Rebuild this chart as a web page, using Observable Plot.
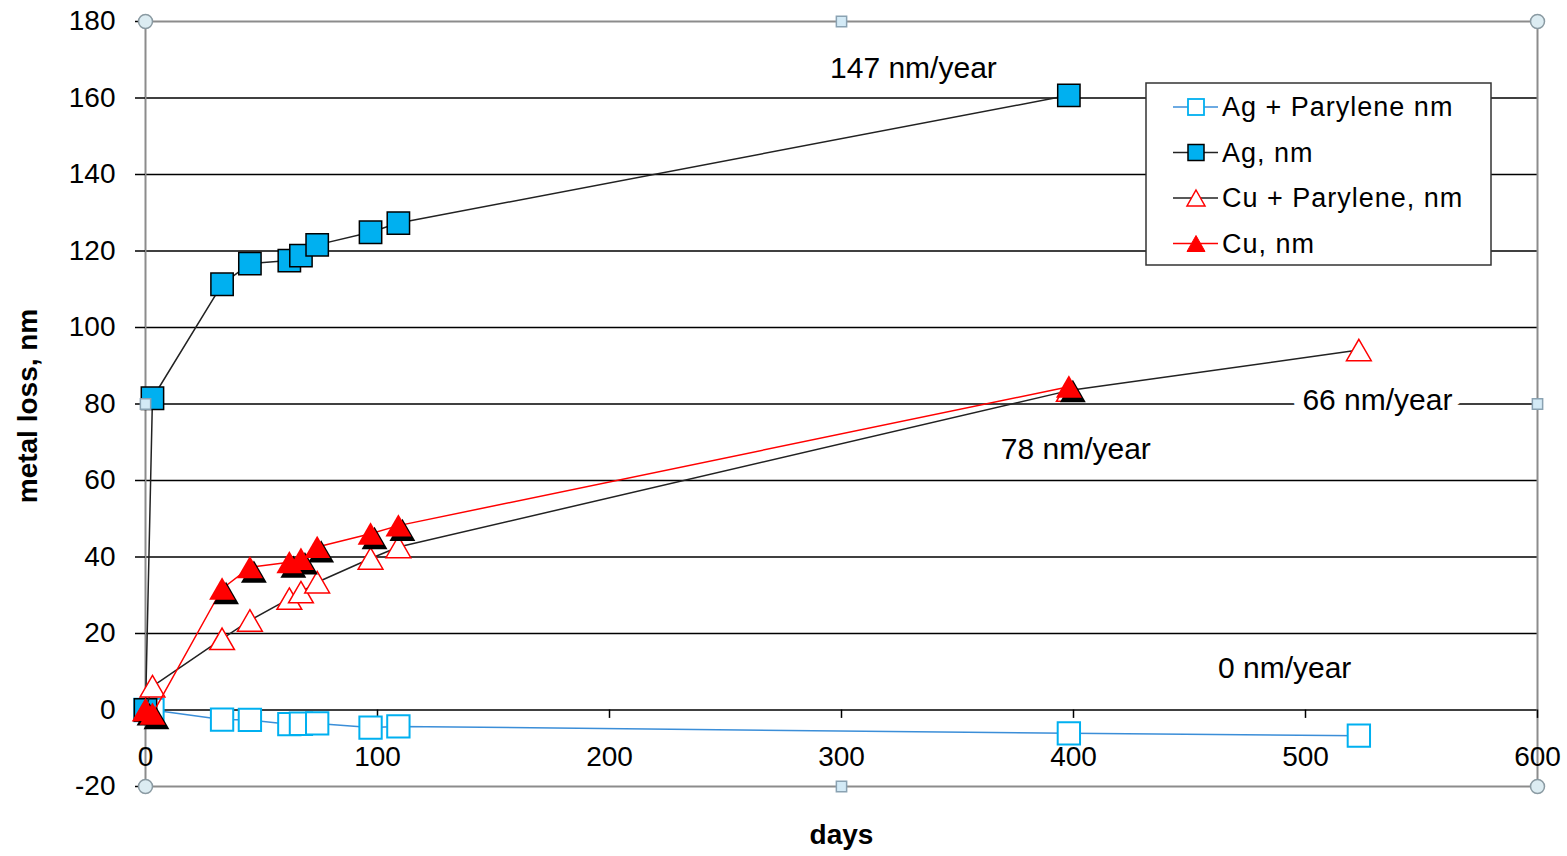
<!DOCTYPE html>
<html>
<head>
<meta charset="utf-8">
<script src="https://cdn.jsdelivr.net/npm/d3@7"></script>
<script src="https://cdn.jsdelivr.net/npm/@observablehq/plot@0.6"></script>
<style>
  html, body { margin: 0; padding: 0; background: white; }
  #wrap { position: relative; width: 1567px; height: 856px; }
</style>
</head>
<body>
<div id="wrap"></div>
<script>
// ---- data ----
const days        = [0, 3, 33, 45, 62, 67, 74, 97, 109, 398];
const daysLong    = [0, 3, 33, 45, 62, 67, 74, 97, 109, 398, 523];
const agParylene  = [0, 0, -2.5, -2.6, -3.7, -3.6, -3.5, -4.6, -4.3, -6.1, -6.7];
const agBare      = [0, 81.5, 111.3, 116.7, 117.5, 118.8, 121.6, 124.9, 127.3, 160.7];
const cuParylene  = [0, 6.2, 18.6, 23.4, 29.1, 30.8, 33.4, 39.6, 42.6, 83.5, 94.1];
const cuBare      = [0, -1, 31.7, 37.3, 38.6, 39.5, 42.6, 46.1, 48.2, 84.5];
const seriesNames = ["Ag + Parylene nm", "Ag, nm", "Cu + Parylene, nm", "Cu, nm"];

const xTicks = [0, 100, 200, 300, 400, 500, 600];
const yTicks = [-20, 0, 20, 40, 60, 80, 100, 120, 140, 160, 180];
const gridValues = [0, 20, 40, 60, 80, 100, 120, 140, 160];

const noteTexts  = ["147 nm/year", "66 nm/year", "78 nm/year", "0 nm/year"];
const noteDays   = [331, 531, 401, 491];
const noteValues = [167.7, 81, 68.1, 10.9];

const handleDays   = [0, 600, 0, 600];
const handleValues = [180, 180, -20, -20];
const midDays      = [300, 300, 0, 600];
const midValues    = [180, -20, 80, 80];

const xLabel = "days";
const yLabel = "metal loss, nm";

// ---- build tables ----
const rows = (xs, ys) => xs.map((d, i) => ({day: d, value: ys[i]}));
const agP = rows(daysLong, agParylene);
const ag  = rows(days, agBare);
const cuP = rows(daysLong, cuParylene);
const cu  = rows(days, cuBare);
const notes = noteTexts.map((t, i) => ({text: t, day: noteDays[i], value: noteValues[i]}));
const corners = rows(handleDays, handleValues);
const mids = rows(midDays, midValues);

const BLUE = "#00b0f0";
const AGP_LINE = "#3b8ed8";
const RED = "#ff0000";
const font = "'Liberation Sans', Arial, sans-serif";

const chart = Plot.plot({
  width: 1567, height: 856,
  marginLeft: 145, marginRight: 30, marginTop: 21, marginBottom: 70,
  x: {domain: [0, 600], axis: null},
  y: {domain: [-20, 180]},
  style: {fontFamily: font, fontSize: "28px", color: "black", background: "white"},
  marks: [
    Plot.ruleY(gridValues, {y: d => d, stroke: "black", strokeWidth: 1.5}),
    Plot.frame({stroke: "#8c8c8c", strokeWidth: 2}),
    Plot.axisY({ticks: yTicks, tickFormat: d => String(d), tickSize: 10, tickPadding: 20, label: null, stroke: "black", strokeWidth: 1.5, fontSize: 28}),
    Plot.ruleX(xTicks, {x: d => d, y1: 0, y2: -2.2, stroke: "black", strokeWidth: 1.5}),
    Plot.text(xTicks, {x: d => d, y: 0, dy: 47, text: d => String(d), fontSize: 28}),
    Plot.text([xLabel], {frameAnchor: "bottom", dy: 57, text: d => d, fontWeight: "bold", fontSize: 28, textAnchor: "middle"}),
    Plot.text([yLabel], {frameAnchor: "left", dx: -117, dy: 2, rotate: -90, textAnchor: "middle", text: d => d, fontWeight: "bold", fontSize: 28}),
    Plot.text(notes, {x: "day", y: "value", text: "text", fontSize: 30, fill: "black", stroke: "white", strokeWidth: 20}),

    // Ag + Parylene
    Plot.line(agP, {x: "day", y: "value", stroke: AGP_LINE, strokeWidth: 1.5}),
    Plot.dot(agP, {x: "day", y: "value", symbol: "square", r: 12.6, fill: "white", stroke: BLUE, strokeWidth: 2}),
    // Ag
    Plot.line(ag, {x: "day", y: "value", stroke: "#222", strokeWidth: 1.5}),
    Plot.dot(ag, {x: "day", y: "value", symbol: "square", r: 12.6, fill: BLUE, stroke: "black", strokeWidth: 1.5}),
    // Cu + Parylene
    Plot.line(cuP, {x: "day", y: "value", stroke: "#222", strokeWidth: 1.5}),
    Plot.dot(cuP, {x: "day", y: "value", symbol: "triangle", r: 9.2, dy: 3.5, fill: "white", stroke: RED, strokeWidth: 1.5}),
    // Cu
    Plot.line(cu, {x: "day", y: "value", stroke: RED, strokeWidth: 1.5}),
    Plot.dot(cu, {x: "day", y: "value", symbol: "triangle", r: 9.6, dx: 4, dy: 8, fill: "black", stroke: "none"}),
    Plot.dot(cu, {x: "day", y: "value", symbol: "triangle", r: 9.6, dy: 3.5, fill: RED, stroke: "none"}),

    // selection handles of the plot area
    Plot.dot(corners, {x: "day", y: "value", r: 7, fill: "#dcecf2", stroke: "#8a9aa2", strokeWidth: 1.5}),
    Plot.dot(mids, {x: "day", y: "value", symbol: "square", r: 5.8, fill: "#d3eaf6", stroke: "#8aa2b2", strokeWidth: 1.5})
  ]
});
document.getElementById("wrap").appendChild(chart);

// ---- legend (drawn inside the plot area, as in the reference) ----
const lg = d3.select("#wrap").append("svg")
  .attr("width", 347).attr("height", 184)
  .style("position", "absolute").style("left", "1145px").style("top", "82px")
  .style("font-family", font);
lg.append("rect").attr("x", 1).attr("y", 1).attr("width", 345).attr("height", 182)
  .attr("fill", "white").attr("stroke", "#333").attr("stroke-width", 1.5);
const legendStyles = [
  {line: AGP_LINE, shape: "square", fill: "white", stroke: BLUE, sw: 1.8},
  {line: "#222", shape: "square", fill: BLUE, stroke: "black", sw: 1.5},
  {line: "#222", shape: "triangle", fill: "white", stroke: RED, sw: 1.5},
  {line: RED, shape: "triangle", fill: RED, stroke: RED, sw: 1}
];
seriesNames.forEach((name, i) => {
  const cy = 25 + i * 45.5;
  const s = legendStyles[i];
  const g = lg.append("g").attr("transform", `translate(0,${cy})`);
  g.append("line").attr("x1", 28).attr("x2", 73).attr("y1", 0).attr("y2", 0)
    .attr("stroke", s.line).attr("stroke-width", 1.5);
  if (s.shape === "square") {
    g.append("rect").attr("x", 51 - 8).attr("y", -8).attr("width", 16).attr("height", 16)
      .attr("fill", s.fill).attr("stroke", s.stroke).attr("stroke-width", s.sw);
  } else {
    g.append("path").attr("d", "M51,-8 L60,8 L42,8 Z")
      .attr("fill", s.fill).attr("stroke", s.stroke).attr("stroke-width", s.sw);
  }
  g.append("text").attr("x", 77).attr("y", 0).attr("dy", "0.35em")
    .attr("font-size", 27).attr("letter-spacing", 1).attr("fill", "black").text(name);
});
</script>
</body>
</html>
